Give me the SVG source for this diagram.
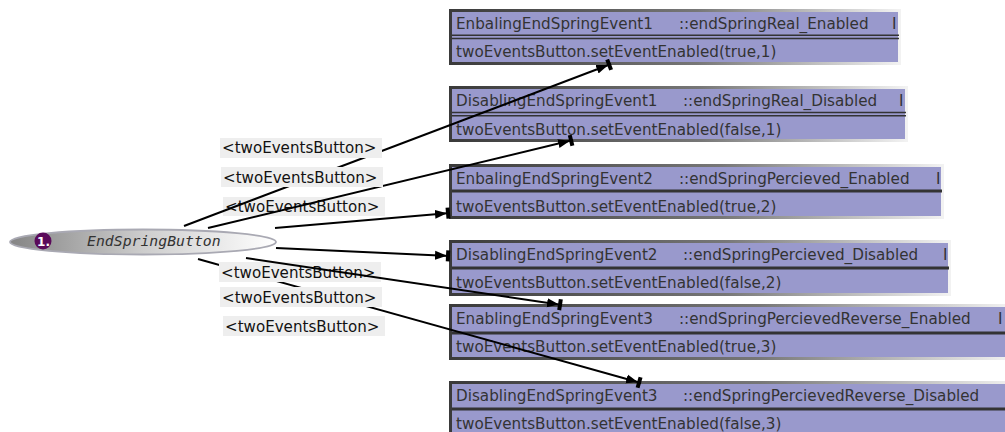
<svg xmlns="http://www.w3.org/2000/svg" width="1005" height="432" viewBox="0 0 1005 432">
<style>
.box{fill:#9999cc;stroke:url(#frame);stroke-width:3}
.t{font-family:"DejaVu Sans",sans-serif;font-size:15.2px;fill:#333}
.dl{stroke:#333;stroke-width:1.4}
.tl{stroke:#333;stroke-width:3}
.edge{stroke:#000;stroke-width:2;fill:none;marker-end:url(#ah)}
.lbg{fill:#eeeeee}
.lt{font-family:"DejaVu Sans",sans-serif;font-size:15.1px;fill:#111}
</style>
<defs>
<linearGradient id="frame" x1="0" y1="0" x2="1" y2="0">
<stop offset="0" stop-color="#3a3a3a"/>
<stop offset="0.55" stop-color="#777"/>
<stop offset="1" stop-color="#f2f2f2"/>
</linearGradient>
<linearGradient id="egrad" x1="0" y1="0" x2="1" y2="0">
<stop offset="0" stop-color="#858585"/>
<stop offset="0.5" stop-color="#cdcdcd"/>
<stop offset="1" stop-color="#ffffff"/>
</linearGradient>
<marker id="ah" viewBox="-15 -6 16 12" refX="0" refY="0" markerWidth="16" markerHeight="12" orient="auto" markerUnits="userSpaceOnUse">
<path d="M-15,-4.5 L-3,0 L-15,4.5 Z" fill="#000"/>
<rect x="-4" y="-5.5" width="4" height="11" fill="#000"/>
</marker>
</defs>

<g id="EndSpringButton">
<ellipse cx="143" cy="242" rx="133" ry="12.5" fill="url(#egrad)" stroke="#a9a9b3" stroke-width="1.8"/>
<circle cx="43" cy="241" r="8.5" fill="#5a0a5a"/>
<text x="43.5" y="245.5" font-family="DejaVu Sans,sans-serif" font-size="12" font-weight="bold" fill="#fff" text-anchor="middle">1.</text>
<text x="87" y="246" font-family="DejaVu Sans Mono,monospace" font-size="14.8" font-style="italic" fill="#333">EndSpringButton</text>
</g>

<g id="EnbalingEndSpringEvent1">
<rect class="box" x="450.5" y="10.5" width="449" height="53"/>
<line class="dl" x1="452" y1="35.3" x2="899" y2="35.3"/>
<line class="dl" x1="452" y1="38.5" x2="899" y2="38.5"/>
<text class="t" y="29"><tspan x="456">EnbalingEndSpringEvent1</tspan><tspan x="679">::endSpringReal_Enabled</tspan><tspan x="892">I</tspan></text>
<text class="t" x="456" y="57">twoEventsButton.setEventEnabled(true,1)</text>
</g>

<g id="DisablingEndSpringEvent1">
<rect class="box" x="450.5" y="87.5" width="456" height="53"/>
<line class="dl" x1="452" y1="112.5" x2="906" y2="112.5"/>
<line class="dl" x1="452" y1="115.8" x2="906" y2="115.8"/>
<text class="t" y="106"><tspan x="456">DisablingEndSpringEvent1</tspan><tspan x="683">::endSpringReal_Disabled</tspan><tspan x="899">I</tspan></text>
<text class="t" x="456" y="134.5">twoEventsButton.setEventEnabled(false,1)</text>
</g>

<g id="EnbalingEndSpringEvent2">
<rect class="box" x="450.5" y="165.5" width="492" height="52"/>
<line class="tl" x1="452" y1="191" x2="942" y2="191"/>
<text class="t" y="184"><tspan x="456">EnbalingEndSpringEvent2</tspan><tspan x="679">::endSpringPercieved_Enabled</tspan><tspan x="936">I</tspan></text>
<text class="t" x="456" y="212">twoEventsButton.setEventEnabled(true,2)</text>
</g>

<g id="DisablingEndSpringEvent2">
<rect class="box" x="450.5" y="241.5" width="499" height="53"/>
<line class="tl" x1="452" y1="268" x2="949" y2="268"/>
<text class="t" y="260"><tspan x="456">DisablingEndSpringEvent2</tspan><tspan x="683">::endSpringPercieved_Disabled</tspan><tspan x="943">I</tspan></text>
<text class="t" x="456" y="288">twoEventsButton.setEventEnabled(false,2)</text>
</g>

<g id="EnablingEndSpringEvent3">
<rect class="box" x="450.5" y="305.5" width="560" height="53"/>
<line class="tl" x1="452" y1="333" x2="1010" y2="333"/>
<text class="t" y="324"><tspan x="456">EnablingEndSpringEvent3</tspan><tspan x="679">::endSpringPercievedReverse_Enabled</tspan><tspan x="998">I</tspan></text>
<text class="t" x="456" y="352">twoEventsButton.setEventEnabled(true,3)</text>
</g>

<g id="DisablingEndSpringEvent3">
<rect class="box" x="450.5" y="382.5" width="566" height="53"/>
<line class="tl" x1="452" y1="409" x2="1016" y2="409"/>
<text class="t" y="401"><tspan x="456">DisablingEndSpringEvent3</tspan><tspan x="683">::endSpringPercievedReverse_Disabled</tspan></text>
<text class="t" x="456" y="429">twoEventsButton.setEventEnabled(false,3)</text>
</g>

<g id="connectors">
<line class="edge" x1="198" y1="259" x2="641" y2="383"/>
<rect class="lbg" x="223" y="197" width="162" height="19"/>
<text class="lt" x="225" y="211.5">&lt;twoEventsButton&gt;</text>
<rect class="lbg" x="219" y="262" width="162" height="20"/>
<text class="lt" x="221" y="277.5">&lt;twoEventsButton&gt;</text>
<rect class="lbg" x="220" y="287" width="162" height="20"/>
<text class="lt" x="222" y="302.5">&lt;twoEventsButton&gt;</text>
<line class="edge" x1="184" y1="226" x2="611" y2="64"/>
<line class="edge" x1="208" y1="228" x2="573" y2="140"/>
<line class="edge" x1="275" y1="228" x2="450" y2="213"/>
<line class="edge" x1="276" y1="248" x2="450" y2="256"/>
<line class="edge" x1="246" y1="258" x2="562" y2="305"/>
<rect class="lbg" x="220" y="138" width="162" height="20"/>
<text class="lt" x="222" y="153">&lt;twoEventsButton&gt;</text>
<rect class="lbg" x="221" y="167" width="162" height="20"/>
<text class="lt" x="223" y="182.5">&lt;twoEventsButton&gt;</text>
<rect class="lbg" x="223" y="316" width="162" height="20"/>
<text class="lt" x="225" y="331.5">&lt;twoEventsButton&gt;</text>
</g>
</svg>
